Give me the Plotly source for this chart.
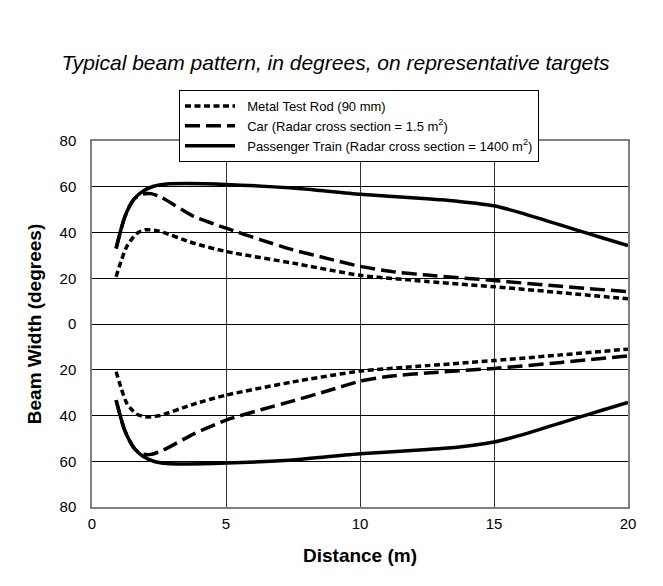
import plotly.graph_objects as go

# Distance (m) and beam half-widths (degrees)
rod_x = [0.9, 1.1, 1.3, 1.65, 2.0, 2.5, 3.8, 5.0, 7.5, 10.0, 12.5, 15.0, 17.5, 20.0]
rod_up = [20.7, 28.0, 33.9, 39.4, 41.2, 40.6, 35.3, 31.7, 26.6, 21.3, 18.6, 16.3, 13.7, 11.0]
rod_lo = [-20.9, -28.5, -34.7, -39.3, -40.6, -40.1, -35.0, -31.1, -25.3, -20.6, -18.2, -16.0, -13.5, -11.0]

car_x = [0.9, 1.05, 1.2, 1.4, 1.6, 1.9, 2.2, 2.6, 3.8, 5.0, 6.3, 7.5, 8.8, 10.0, 11.2, 12.5, 15.0, 17.5, 20.0]
car_up = [33.0, 40.0, 46.0, 51.5, 55.0, 56.8, 57.0, 55.3, 47.0, 41.9, 36.8, 32.4, 28.6, 25.2, 22.9, 21.4, 19.0, 16.5, 14.1]
car_lo = [-33.3, -40.0, -45.8, -51.0, -54.7, -56.9, -57.0, -55.5, -48.0, -42.0, -37.5, -33.6, -29.2, -25.0, -22.7, -21.4, -19.4, -16.8, -13.9]

train_x = [0.9, 1.05, 1.2, 1.4, 1.6, 1.9, 2.3, 2.8, 3.5, 5.0, 7.5, 10.0, 12.5, 13.7, 15.0, 16.0, 17.0, 18.0, 19.0, 20.0]
train_up = [33.0, 40.0, 46.0, 51.5, 55.0, 58.0, 60.2, 61.2, 61.4, 61.0, 59.4, 56.7, 54.7, 53.6, 51.7, 48.6, 45.0, 41.4, 37.8, 34.3]
train_lo = [-33.3, -40.0, -45.8, -51.0, -54.7, -57.8, -60.0, -61.0, -61.2, -60.8, -59.4, -56.7, -54.9, -53.8, -51.6, -48.6, -45.0, -41.4, -37.8, -34.3]

y_ticks = [-80, -60, -40, -20, 0, 20, 40, 60, 80]
x_ticks = [0, 5, 10, 15, 20]

series = [
    ("Metal Test Rod (90 mm)", rod_x, rod_up, rod_lo, "6px,3.5px"),
    ("Car (Radar cross section = 1.5 m<sup>2</sup>)", car_x, car_up, car_lo, "15px,6px"),
    ("Passenger Train (Radar cross section = 1400 m<sup>2</sup>)", train_x, train_up, train_lo, "solid"),
]

FONT = "Arial, Liberation Sans, sans-serif"

fig = go.Figure()
for name, xs, up, lo, dash in series:
    line = dict(color="black", width=3.5, dash=dash, shape="spline", smoothing=0.6)
    label = "\u00a0\u00a0" + name
    fig.add_trace(go.Scatter(x=xs, y=up, mode="lines", name=label, line=line,
                             legendgroup=name))
    fig.add_trace(go.Scatter(x=xs, y=lo, mode="lines", name=label, line=line,
                             legendgroup=name, showlegend=False))

# the page body adds an 8px margin, so the figure is drawn 8px smaller
fig.update_layout(
    width=655, height=578,
    margin=dict(l=84, r=35, t=133, b=79),
    paper_bgcolor="white", plot_bgcolor="white",
    font=dict(family=FONT, color="black", size=15),
    title=dict(text="<i>Typical beam pattern, in degrees, on representative targets</i>",
               x=0.5, xanchor="center", y=1 - 55 / 578, yanchor="middle",
               font=dict(size=21, family=FONT)),
    legend=dict(x=(171 - 84) / 536, y=(499 - 82) / 366, xanchor="left", yanchor="top",
                bgcolor="white", bordercolor="black", borderwidth=1, itemwidth=50,
                font=dict(size=13, family=FONT), tracegroupgap=0),
    showlegend=True,
)

fig.update_xaxes(range=[0, 20], tickvals=x_ticks, showgrid=True, gridcolor="#333333",
                 gridwidth=1, showline=True, linecolor="#808080", linewidth=1.5,
                 mirror=True, zeroline=False, ticks="", ticklabelstandoff=2,
                 title=dict(text="<b>Distance (m)</b>", font=dict(size=19), standoff=18))
fig.update_yaxes(range=[-80, 80], tickvals=y_ticks, ticktext=[str(abs(v)) for v in y_ticks],
                 showgrid=True, gridcolor="black", gridwidth=1, showline=True,
                 linecolor="#808080", linewidth=1.5, mirror=True,
                 zeroline=True, zerolinecolor="black", zerolinewidth=1,
                 ticks="", ticklabelstandoff=11,
                 title=dict(text="<b>Beam Width (degrees)</b>", font=dict(size=19), standoff=13))

# light frame edge on the right
fig.add_shape(type="line", xref="paper", yref="paper", x0=(653.5 - 84) / 536, x1=(653.5 - 84) / 536,
              y0=(499 - 580) / 366, y1=(499 + 140) / 366,
              line=dict(color="#d9d9d9", width=1.5), layer="below")

fig.write_html("out.html")
